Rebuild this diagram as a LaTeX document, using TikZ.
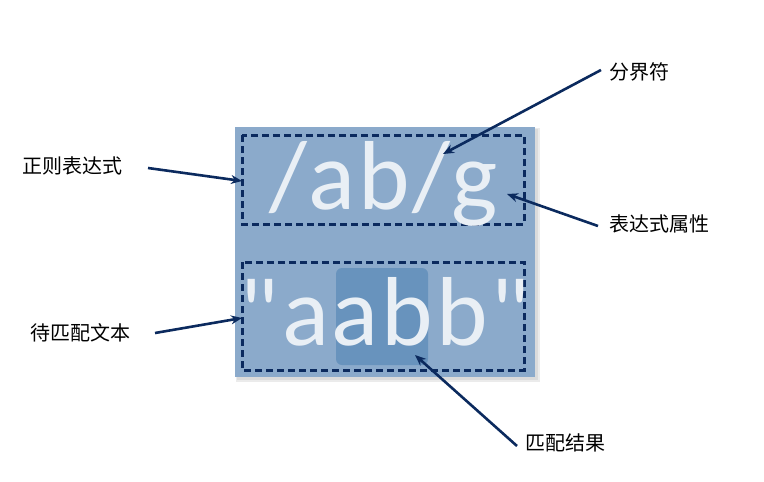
\documentclass[tikz,border=0pt]{standalone}
\usepackage{fontspec}
\setmainfont{Carlito}
\newfontfamily\bigfont[LetterSpace=3]{Carlito}
\newfontfamily\cjk{Noto Sans CJK SC}
\usetikzlibrary{arrows.meta}
\definecolor{panel}{HTML}{8BAACB}
\definecolor{hilite}{HTML}{6893BD}
\definecolor{navy}{HTML}{0B2A5E}
\definecolor{glyph}{HTML}{E9EFF5}
\tikzset{
  dashbox/.style={draw=navy, line width=3pt, dash pattern=on 7pt off 4pt},
  lbl/.style={font=\cjk\fontsize{20}{24}\selectfont, text=black, inner sep=0pt},
  big/.style={font=\bigfont\fontsize{98}{98}\selectfont, text=glyph, inner sep=0pt},
  pointer/.style={draw=navy, line width=2.6pt, -{Stealth[length=11pt,width=9pt]}}
}
\begin{document}
\begin{tikzpicture}[x=1pt,y=-1pt]
\useasboundingbox (0,0) rectangle (764,482);
% soft shadow and panel
\fill[black!8] (236,128) rectangle (540,382);
\fill[black!14] (237,129) rectangle (538,380);
\fill[panel] (235,127) rectangle (535,377);
% highlight
\fill[hilite, rounded corners=6pt] (336,268) rectangle (428,365);
% dashed boxes
\draw[dashbox] (242,135) rectangle (524,224);
\draw[dashbox] (242,262) rectangle (524,370);
\coordinate (rx) at (242,181);
\coordinate (tx) at (242,318);
% big texts
\node[big, anchor=base] (re) at (384,209) {/ab/g};
\node[big, anchor=base] (str) at (385,345) {"aabb"};
% labels
\node[lbl, anchor=west] (l1) at (22,166) {正则表达式};
\node[lbl, anchor=west] (l2) at (609,72) {分界符};
\node[lbl, anchor=west] (l3) at (609,224) {表达式属性};
\node[lbl, anchor=west] (l4) at (30,333) {待匹配文本};
\node[lbl, anchor=west] (l5) at (525,443) {匹配结果};
\coordinate (p2) at (443,154);
\coordinate (p3) at (507,194);
\coordinate (p5) at (415,355);
% pointers
\draw[pointer] (148,168) -- (rx);
\draw[pointer] (601,70) -- (p2);
\draw[pointer] (598,226) -- (p3);
\draw[pointer] (155,333) -- (tx);
\draw[pointer] (517,446) -- (p5);
\end{tikzpicture}
\end{document}
